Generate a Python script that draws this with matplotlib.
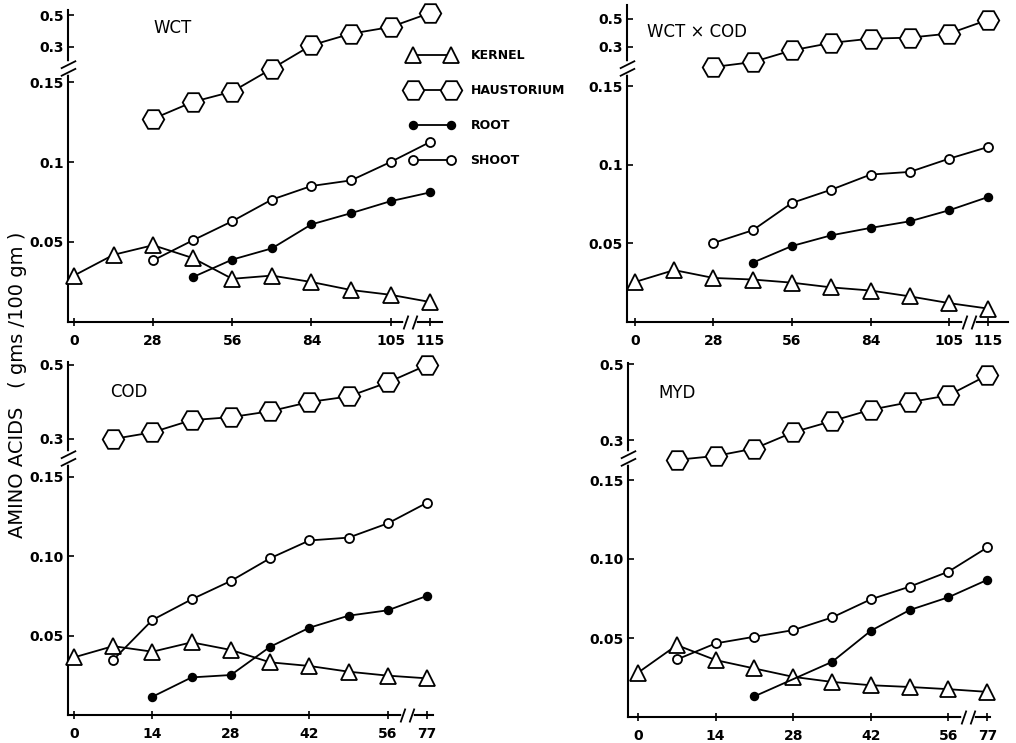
import numpy as np
import matplotlib
matplotlib.use("Agg")
import matplotlib.pyplot as plt
from matplotlib.path import Path

# x axis = sampling stage (one step between two samplings)
tick_pos = [0, 2, 4, 6, 8, 9]
top_days = ["0", "28", "56", "84", "105", "115"]
bot_days = ["0", "14", "28", "42", "56", "77"]
y_ticks = [0.05, 0.1, 0.15, 0.3, 0.5]

# --- WCT ---
wct_kernel_x = [0, 1, 2, 3, 4, 5, 6, 7, 8, 9]
wct_kernel = [0.029, 0.042, 0.048, 0.040, 0.027, 0.029, 0.025, 0.020, 0.017, 0.0125]
wct_haus_x = [2, 3, 4, 5, 6, 7, 8, 9]
wct_haus = [0.127, 0.1375, 0.144, 0.207, 0.311, 0.384, 0.426, 0.515]
wct_root_x = [3, 4, 5, 6, 7, 8, 9]
wct_root = [0.028, 0.039, 0.046, 0.061, 0.068, 0.0755, 0.081]
wct_shoot_x = [2, 3, 4, 5, 6, 7, 8, 9]
wct_shoot = [0.0385, 0.051, 0.063, 0.0765, 0.085, 0.0885, 0.100, 0.1125]

# --- WCT x COD ---
wxc_kernel_x = [0, 1, 2, 3, 4, 5, 6, 7, 8, 9]
wxc_kernel = [0.0254, 0.033, 0.028, 0.027, 0.025, 0.022, 0.020, 0.0163, 0.012, 0.0085]
wxc_haus_x = [2, 3, 4, 5, 6, 7, 8, 9]
wxc_haus = [0.223, 0.242, 0.287, 0.329, 0.359, 0.366, 0.395, 0.493]
wxc_root_x = [3, 4, 5, 6, 7, 8, 9]
wxc_root = [0.0377, 0.0483, 0.0551, 0.0598, 0.064, 0.071, 0.0795]
wxc_shoot_x = [2, 3, 4, 5, 6, 7, 8, 9]
wxc_shoot = [0.0502, 0.0583, 0.0757, 0.0841, 0.0937, 0.0954, 0.1038, 0.1113]

# --- COD ---
cod_kernel_x = [0, 1, 2, 3, 4, 5, 6, 7, 8, 9]
cod_kernel = [0.0363, 0.0434, 0.0399, 0.0458, 0.041, 0.0332, 0.0309, 0.0273, 0.0248, 0.0231]
cod_haus_x = [1, 2, 3, 4, 5, 6, 7, 8, 9]
cod_haus = [0.300, 0.318, 0.351, 0.359, 0.375, 0.400, 0.415, 0.453, 0.500]
cod_root_x = [2, 3, 4, 5, 6, 7, 8, 9]
cod_root = [0.0115, 0.0237, 0.0252, 0.043, 0.055, 0.0626, 0.066, 0.0751]
cod_shoot_x = [1, 2, 3, 4, 5, 6, 7, 8, 9]
cod_shoot = [0.0347, 0.0599, 0.0729, 0.0845, 0.0988, 0.110, 0.1118, 0.1208, 0.1338]

# --- MYD ---
myd_kernel_x = [0, 1, 2, 3, 4, 5, 6, 7, 8, 9]
myd_kernel = [0.0281, 0.0455, 0.036, 0.0307, 0.0254, 0.0222, 0.0201, 0.019, 0.0176, 0.0159]
myd_haus_x = [1, 2, 3, 4, 5, 6, 7, 8, 9]
myd_haus = [0.2256, 0.2402, 0.268, 0.3205, 0.350, 0.380, 0.400, 0.418, 0.471]
myd_root_x = [3, 5, 6, 7, 8, 9]
myd_root = [0.0131, 0.0349, 0.0546, 0.0677, 0.0758, 0.0868]
myd_shoot_x = [1, 2, 3, 4, 5, 6, 7, 8, 9]
myd_shoot = [0.0364, 0.0466, 0.0508, 0.055, 0.063, 0.0745, 0.0825, 0.092, 0.1073]

W, H = 1016, 743
fig = plt.figure(figsize=(W / 100, H / 100), dpi=100)

styles = {
    "KERNEL": dict(marker="^", ms=11, mfc="white"),
    "HAUSTORIUM": dict(marker="H", ms=15.5, mfc="white"),
    "ROOT": dict(marker="o", ms=5.5, mfc="black"),
    "SHOOT": dict(marker="o", ms=6.5, mfc="white"),
}


def broken_scale(u15, u3, u5):
    # piecewise linear y axis: 0-0.15 stretched, 0.3-0.5 squeezed
    ys = [-1.0, 0.0, 0.15, 0.3, 0.5, 2.0]
    us = [-u15 / 0.15, 0.0, u15, u3, u5, u5 + 1.5 * (u5 - u3) / 0.2]
    return (lambda y: np.interp(y, ys, us)), (lambda u: np.interp(u, us, ys))


slash_y = Path([(-1, -1), (1, 0), (-1, 0), (1, 1)],
               [Path.MOVETO, Path.LINETO, Path.MOVETO, Path.LINETO])
slash_x = Path([(-1, -1), (-0.3, 1), (0.3, -1), (1, 1)],
               [Path.MOVETO, Path.LINETO, Path.MOVETO, Path.LINETO])

# name, pixel box (left, right, bottom, top), xlim, scale nodes, break, days, ylabels, series
panels = [
    ("WCT", (68, 442, 322, 10), (-0.15, 9.3), (240, 275, 306.7), 254, top_days,
     ["0.05", "0.1", "0.15", "0.3", "0.5"],
     [(wct_kernel_x, wct_kernel, "KERNEL"), (wct_haus_x, wct_haus, "HAUSTORIUM"),
      (wct_root_x, wct_root, "ROOT"), (wct_shoot_x, wct_shoot, "SHOOT")]),
    ("WCT \u00d7 COD", (627, 1008, 322, 5), (-0.2, 9.5), (236, 275, 303.3), 254, top_days,
     ["0.05", "0.1", "0.15", "0.3", "0.5"],
     [(wxc_kernel_x, wxc_kernel, "KERNEL"), (wxc_haus_x, wxc_haus, "HAUSTORIUM"),
      (wxc_root_x, wxc_root, "ROOT"), (wxc_shoot_x, wxc_shoot, "SHOOT")]),
    ("COD", (68, 433, 715, 362), (-0.15, 9.15), (238, 276, 350), 257, bot_days,
     ["0.05", "0.10", "0.15", "0.3", "0.5"],
     [(cod_kernel_x, cod_kernel, "KERNEL"), (cod_haus_x, cod_haus, "HAUSTORIUM"),
      (cod_root_x, cod_root, "ROOT"), (cod_shoot_x, cod_shoot, "SHOOT")]),
    ("MYD", (628, 990, 717, 363), (-0.26, 9.07), (237, 277, 352.7), 259, bot_days,
     ["0.05", "0.10", "0.15", "0.3", "0.5"],
     [(myd_kernel_x, myd_kernel, "KERNEL"), (myd_haus_x, myd_haus, "HAUSTORIUM"),
      (myd_root_x, myd_root, "ROOT"), (myd_shoot_x, myd_shoot, "SHOOT")]),
]

title_pos = {"WCT": (153, 28), "WCT \u00d7 COD": (647, 32), "COD": (110, 392), "MYD": (658, 393)}
handles = {}

for name, (l, r, b, t), xlim, nodes, ubreak, days, ylabs, series in panels:
    ax = fig.add_axes([l / W, 1 - b / H, (r - l) / W, (b - t) / H])
    fwd, inv = broken_scale(*nodes)
    ax.set_yscale("function", functions=(fwd, inv))
    ax.set_ylim(0, inv(b - t))
    ax.set_xlim(*xlim)

    for xs, ys, lab in series:
        ln, = ax.plot(xs, ys, color="black", lw=1.3, mec="black", mew=1.3,
                      clip_on=False, zorder=4, label=lab, **styles[lab])
        handles.setdefault(lab, ln)

    for s in ["top", "right"]:
        ax.spines[s].set_visible(False)
    for s in ["left", "bottom"]:
        ax.spines[s].set_linewidth(1.5)

    ax.set_yticks(y_ticks)
    ax.set_yticklabels(ylabs)
    ax.set_xticks(tick_pos)
    ax.set_xticklabels(days)
    ax.tick_params(axis="y", direction="in", length=4, width=1.2, pad=3)
    ax.tick_params(axis="x", direction="inout", length=6, width=1.2, pad=6)
    for lbl in ax.get_xticklabels() + ax.get_yticklabels():
        lbl.set_fontsize(10)
        lbl.set_fontweight("bold")

    # y axis break
    yb = inv(ubreak)
    ax.plot([xlim[0], xlim[0]], [inv(ubreak - 4), inv(ubreak + 4)], color="white",
            lw=4, clip_on=False, zorder=3)
    ax.plot([xlim[0]], [yb], marker=slash_y, ms=11, mec="black", mew=1.3,
            ls="none", clip_on=False, zorder=5)
    # x axis break
    ax.plot([8.4, 8.6], [0, 0], color="white", lw=4, clip_on=False, zorder=3)
    ax.plot([8.5], [0], marker=slash_x, ms=10, mec="black", mew=1.3,
            ls="none", clip_on=False, zorder=5)

    tx, ty = title_pos[name]
    fig.text(tx / W, 1 - ty / H, name, fontsize=12, va="center", ha="left")

fig.text(18 / W, 1 - 385 / H, "AMINO ACIDS   ( gms /100 gm )", rotation=90,
         fontsize=14, ha="center", va="center")

order = ["KERNEL", "HAUSTORIUM", "ROOT", "SHOOT"]
leg = fig.legend([handles[k] for k in order], order, loc="upper left",
                 bbox_to_anchor=(398 / W, 1 - 38 / H), frameon=False, numpoints=2,
                 handlelength=3.6, labelspacing=1.75, handletextpad=1.3,
                 prop=dict(size=9, weight="bold"))

fig.savefig("out.png", dpi=100)
